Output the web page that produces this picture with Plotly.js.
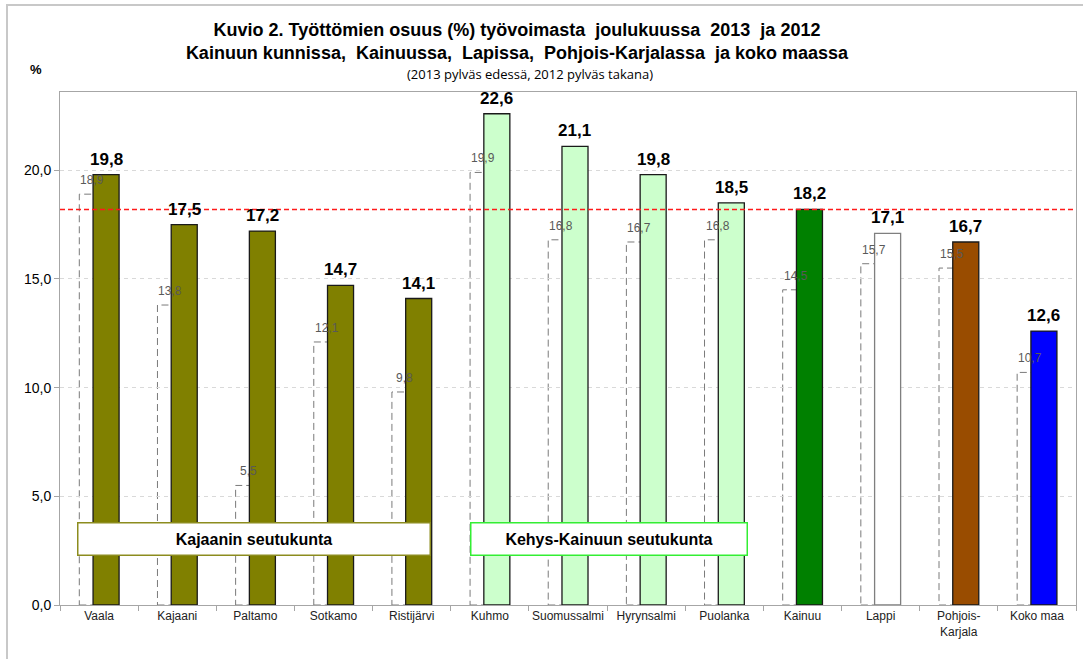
<!DOCTYPE html>
<html>
<head>
<meta charset="utf-8">
<script src="https://cdn.plot.ly/plotly-3.0.1.min.js"></script>
<style>
  html, body { margin: 0; padding: 0; background: #fff; }
  #wrap { position: relative; width: 1083px; height: 659px; overflow: hidden; }
  #chart { width: 1083px; height: 659px; }
  #frame { position: absolute; left: 6px; top: 4px; width: 1090px; height: 670px;
           border: 2px solid #c8c8c8; pointer-events: none; box-sizing: border-box; }
</style>
</head>
<body>
<div id="wrap"><div id="chart"></div><div id="frame"></div></div>
<script>
// ---- data ----
const categories = ['Vaala', 'Kajaani', 'Paltamo', 'Sotkamo', 'Ristijärvi', 'Kuhmo',
  'Suomussalmi', 'Hyrynsalmi', 'Puolanka', 'Kainuu', 'Lappi', 'Pohjois-<br>Karjala', 'Koko maa'];
const values2013 = [19.8, 17.5, 17.2, 14.7, 14.1, 22.6, 21.1, 19.8, 18.5, 18.2, 17.1, 16.7, 12.6];
const values2012 = [18.9, 13.8, 5.5, 12.1, 9.8, 19.9, 16.8, 16.7, 16.8, 14.5, 15.7, 15.5, 10.7];
const yTicks = [0, 5, 10, 15, 20];
const referenceIndex = 9; // Kainuu 2013 -> red reference line

// ---- styles ----
const fill2013 = ['#808000', '#808000', '#808000', '#808000', '#808000',
  '#ccffcc', '#ccffcc', '#ccffcc', '#ccffcc', '#008000', '#ffffff', '#994c00', '#0000ff'];
const line2013 = categories.map((c, i) => i === 10 ? '#7f7f7f' : '#1a1a1a');
const fmt = v => v.toFixed(1).replace('.', ',');
const FONT = 'Liberation Sans, Arial, sans-serif';

const BAR_W = 0.333;
const OFF_2013 = -0.077;
const OFF_2012 = -0.253;

const trace2013 = {
  type: 'bar', x: categories, y: values2013, name: '2013',
  width: BAR_W, offset: OFF_2013,
  marker: { color: fill2013, line: { color: line2013, width: 1.3 } },
  hoverinfo: 'skip'
};
const trace2012 = {
  type: 'bar', x: categories, y: values2012, name: '2012',
  width: BAR_W, offset: OFF_2012,
  marker: { color: 'rgba(0,0,0,0)', line: { width: 0 } },
  hoverinfo: 'skip'
};

// dashed outlines of the 2012 bars (behind the 2013 bars)
const shapes = values2012.map((v, i) => ({
  type: 'rect', xref: 'x', yref: 'y', layer: 'below',
  x0: i + OFF_2012, x1: i + OFF_2012 + BAR_W, y0: 0, y1: v,
  line: { color: '#7a7a7a', width: 1, dash: '7px,4px' }, fillcolor: 'rgba(0,0,0,0)'
}));
shapes.push({
  type: 'line', xref: 'paper', yref: 'y', x0: 0, x1: 1,
  y0: values2013[referenceIndex], y1: values2013[referenceIndex],
  line: { color: '#ff1a1a', width: 1.5, dash: '5px,3px' }, layer: 'above'
});

// value labels
const labels2013 = values2013.map((v, i) => ({
  text: '<b>' + fmt(v) + '</b>', showarrow: false,
  xref: 'x', yref: 'y', x: i + OFF_2013 + BAR_W / 2, y: v,
  xanchor: 'center', yanchor: 'bottom', yshift: 4,
  font: { family: FONT, size: 17, color: '#000' }
}));
const labels2012 = values2012.map((v, i) => ({
  text: fmt(v), showarrow: false,
  xref: 'x', yref: 'y', x: i + OFF_2012 + BAR_W / 2, y: v,
  xanchor: 'center', yanchor: 'bottom', yshift: 5,
  font: { family: FONT, size: 12, color: '#595959' }
}));

const layout = {
  width: 1083, height: 659,
  margin: { l: 60, r: 7, t: 92, b: 54 },
  paper_bgcolor: '#fff', plot_bgcolor: '#fff',
  barmode: 'overlay', showlegend: false,
  separators: ', ',
  font: { family: FONT, color: '#000' },
  title: {
    text: 'Kuvio 2. Työttömien osuus (%) työvoimasta  joulukuussa  2013  ja 2012<br>Kainuun kunnissa,  Kainuussa,  Lapissa,  Pohjois-Karjalassa  ja koko maassa',
    font: { family: FONT, size: 18, color: '#000', weight: 'bold' },
    x: 517 / 1083, xref: 'container', xanchor: 'center',
    y: 1 - 36 / 659, yref: 'container', yanchor: 'top'
  },
  xaxis: {
    type: 'category', range: [-0.5, 12.5], fixedrange: true,
    showline: true, linecolor: '#a6a6a6', linewidth: 1, mirror: true,
    ticks: 'outside', tickson: 'boundaries', ticklen: 5, tickcolor: '#a6a6a6',
    tickangle: 0, automargin: false,
    tickfont: { family: FONT, size: 12, color: '#222' },
    showgrid: false
  },
  yaxis: {
    range: [0, 23.6], fixedrange: true,
    tickvals: yTicks, ticktext: yTicks.map(fmt),
    showline: true, linecolor: '#a6a6a6', linewidth: 1, mirror: true,
    ticks: 'outside', ticklen: 5, tickcolor: '#a6a6a6',
    tickfont: { family: FONT, size: 14, color: '#000' },
    showgrid: true, gridcolor: '#d9d9d9', griddash: '4px,4px', gridwidth: 1,
    zeroline: false
  },
  shapes: shapes,
  annotations: [
    {
      text: '(2013 pylväs edessä, 2012 pylväs takana)', showarrow: false,
      xref: 'paper', yref: 'paper', x: (530 - 60) / 1016, y: (605 - 74) / 513,
      xanchor: 'center', yanchor: 'middle',
      font: { family: 'Open Sans, sans-serif', size: 13, color: '#000' }
    },
    {
      text: '<b>%</b>', showarrow: false,
      xref: 'paper', yref: 'paper', x: (36 - 60) / 1016, y: (605 - 70) / 513,
      xanchor: 'center', yanchor: 'middle',
      font: { family: FONT, size: 13, color: '#000' }
    },
    {
      text: '<b>Kajaanin seutukunta</b>', showarrow: false,
      xref: 'x', yref: 'y', x: 1.976, y: 3.03, xanchor: 'center', yanchor: 'middle',
      width: 349, height: 29, bgcolor: '#fff', bordercolor: '#8c8c1e', borderwidth: 1.5, borderpad: 1,
      font: { family: FONT, size: 16, color: '#000' }
    },
    {
      text: '<b>Kehys-Kainuun seutukunta</b>', showarrow: false,
      xref: 'x', yref: 'y', x: 6.53, y: 3.03, xanchor: 'center', yanchor: 'middle',
      width: 273, height: 29, bgcolor: '#fff', bordercolor: '#33ee33', borderwidth: 1.5, borderpad: 1,
      font: { family: FONT, size: 16, color: '#000' }
    }
  ].concat(labels2013, labels2012)
};

Plotly.newPlot('chart', [trace2013, trace2012], layout, { staticPlot: true, displayModeBar: false });
</script>
</body>
</html>
